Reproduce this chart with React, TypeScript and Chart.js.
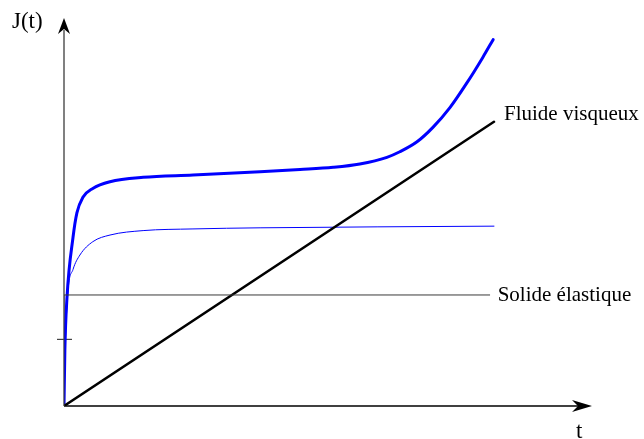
import React, { useEffect, useRef } from "react";
import { Chart, registerables } from "chart.js";

Chart.register(...registerables);

// Data (t in arbitrary time units, J in compliance units)
const thickT = [0, 0.02, 0.07, 0.21, 0.3, 0.44, 0.67, 1.07, 1.84, 3.0, 4.56, 5.49, 6.26, 6.88, 7.51, 7.81, 8.21, 8.58, 8.98, 9.37, 9.74, 9.98];
const thickJ = [0, 0.5, 0.98, 1.52, 1.74, 1.88, 1.96, 2.02, 2.06, 2.08, 2.11, 2.13, 2.15, 2.18, 2.24, 2.29, 2.38, 2.51, 2.69, 2.91, 3.14, 3.3];
const thinT = [0, 0.02, 0.09, 0.21, 0.37, 0.67, 1.07, 1.84, 3.0, 4.56, 10];
const thinJ = [0, 0.41, 1.02, 1.23, 1.36, 1.48, 1.54, 1.58, 1.595, 1.605, 1.62];
const fluideT = [0, 10];
const fluideJ = [0, 2.56];
const solideT = [0, 0, 9.9];
const solideJ = [0, 1, 1];
const tickJ = 0.6;
const labels = { y: "J(t)", x: "t", fluide: "Fluide visqueux", solide: "Solide élastique" };

const xMax = 12.28;
const yMax = 3.495;

const toPts = (xs: number[], ys: number[]) => xs.map((x, i) => ({ x, y: ys[i] }));

const axesPlugin = {
  id: "axesPlugin",
  beforeDatasetsDraw(chart: any) {
    const { ctx, scales } = chart;
    const x = scales.x, y = scales.y;
    const ox = x.getPixelForValue(0), oy = y.getPixelForValue(0);
    ctx.save();
    ctx.strokeStyle = "#808080";
    ctx.lineWidth = 2;
    ctx.beginPath();
    ctx.moveTo(ox, oy);
    ctx.lineTo(ox, y.getPixelForValue(yMax) + 12);
    ctx.stroke();
    ctx.strokeStyle = "#000";
    ctx.lineWidth = 1.5;
    ctx.beginPath();
    ctx.moveTo(ox, oy);
    ctx.lineTo(x.getPixelForValue(xMax) - 12, oy);
    ctx.stroke();
    const ty = y.getPixelForValue(tickJ);
    ctx.strokeStyle = "#444";
    ctx.lineWidth = 1.2;
    ctx.beginPath();
    ctx.moveTo(ox - 7, ty);
    ctx.lineTo(ox + 8, ty);
    ctx.stroke();
    ctx.restore();
  },
  afterDatasetsDraw(chart: any) {
    const { ctx, scales } = chart;
    const x = scales.x, y = scales.y;
    const ox = x.getPixelForValue(0), oy = y.getPixelForValue(0);
    ctx.save();
    ctx.fillStyle = "#000";
    const topY = y.getPixelForValue(yMax);
    ctx.beginPath();
    ctx.moveTo(ox, topY);
    ctx.lineTo(ox + 6, topY + 16);
    ctx.lineTo(ox, topY + 11);
    ctx.lineTo(ox - 6, topY + 16);
    ctx.closePath();
    ctx.fill();
    const rx = x.getPixelForValue(xMax);
    ctx.beginPath();
    ctx.moveTo(rx, oy);
    ctx.lineTo(rx - 20, oy - 6);
    ctx.lineTo(rx - 14, oy);
    ctx.lineTo(rx - 20, oy + 6);
    ctx.closePath();
    ctx.fill();
    ctx.font = "23px 'Liberation Serif', serif";
    ctx.textBaseline = "alphabetic";
    ctx.textAlign = "left";
    ctx.fillText(labels.y, 12, 28);
    ctx.fillText(labels.x, 576, 438);
    ctx.font = "21px 'Liberation Serif', serif";
    const fx = x.getPixelForValue(fluideT[1]);
    const fy = y.getPixelForValue(fluideJ[1]);
    ctx.textBaseline = "middle";
    ctx.fillText(labels.fluide, fx + 10, fy - 7);
    const sx = x.getPixelForValue(solideT[2]);
    const sy = y.getPixelForValue(solideJ[2]);
    ctx.fillText(labels.solide, sx + 8, sy + 1);
    ctx.restore();
  },
};

export default function App() {
  const ref = useRef<HTMLCanvasElement | null>(null);
  useEffect(() => {
    if (!ref.current) return;
    const chart = new Chart(ref.current, {
      type: "line",
      data: {
        datasets: [
          { label: "solide", data: toPts(solideT, solideJ), borderColor: "#3a3a3a", borderWidth: 1, pointRadius: 0, tension: 0 },
          { label: "fluide", data: toPts(fluideT, fluideJ), borderColor: "#000", borderWidth: 2.5, pointRadius: 0, tension: 0 },
          { label: "thin", data: toPts(thinT, thinJ), borderColor: "#0000ff", borderWidth: 1, pointRadius: 0, cubicInterpolationMode: "monotone" },
          { label: "thick", data: toPts(thickT, thickJ), borderColor: "#0000ff", borderWidth: 3, pointRadius: 0, cubicInterpolationMode: "monotone" },
        ],
      } as any,
      options: {
        animation: false,
        responsive: false,
        layout: { padding: { left: 64, right: 52, top: 18, bottom: 33 } },
        plugins: { legend: { display: false }, tooltip: { enabled: false } },
        scales: {
          x: { type: "linear", min: 0, max: xMax, display: false },
          y: { type: "linear", min: 0, max: yMax, display: false },
        },
        elements: { line: { borderCapStyle: "round" } },
      } as any,
      plugins: [axesPlugin],
    });
    return () => chart.destroy();
  }, []);
  return (
    <div style={{ position: "fixed", left: 0, top: 0, width: 644, height: 439, background: "#fff" }}>
      <canvas ref={ref} width={644} height={439} style={{ width: 644, height: 439, display: "block" }} />
    </div>
  );
}
